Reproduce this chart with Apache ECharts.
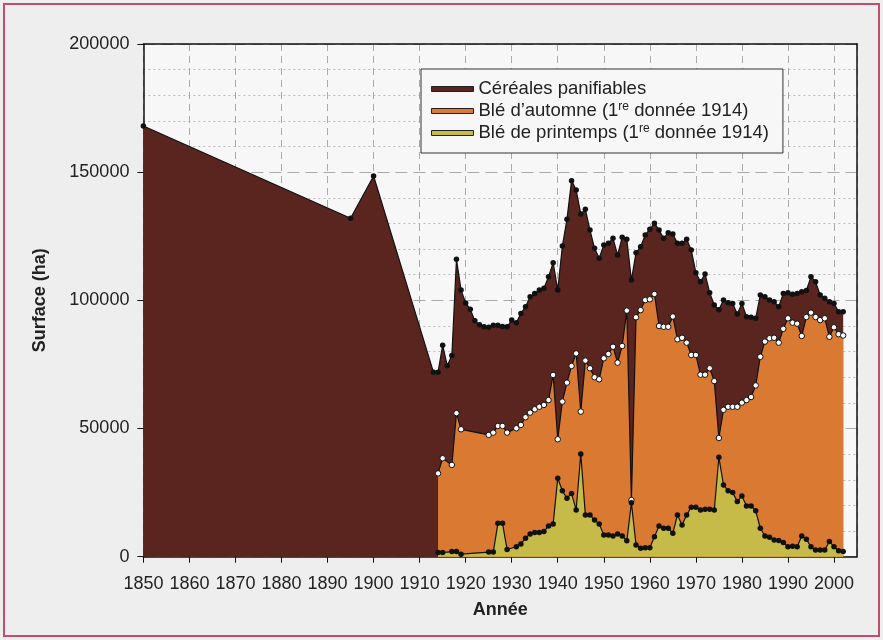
<!DOCTYPE html>
<html>
<head>
<meta charset="utf-8">
<script src="https://cdn.jsdelivr.net/npm/echarts@6/dist/echarts.min.js"></script>
<style>
html,body{margin:0;padding:0;background:#eeeeee;}
#c{width:883px;height:640px;}
</style>
</head>
<body>
<div id="c"></div>
<script>
// ---- Data ----
const cerealYears = [1850, 1895, 1900,
  1913,1914,1915,1916,1917,1918,1919,1920,1921,1922,
  1923,1924,1925,1926,1927,1928,1929,1930,1931,1932,
  1933,1934,1935,1936,1937,1938,1939,1940,1941,1942,
  1943,1944,1945,1946,1947,1948,1949,1950,1951,1952,
  1953,1954,1955,1956,1957,1958,1959,1960,1961,1962,
  1963,1964,1965,1966,1967,1968,1969,1970,1971,1972,
  1973,1974,1975,1976,1977,1978,1979,1980,1981,1982,
  1983,1984,1985,1986,1987,1988,1989,1990,1991,1992,
  1993,1994,1995,1996,1997,1998,1999,2000,2001,2002];
const cerealValues = [168000, 132000, 148500,
  72000,72000,82500,74500,78500,116000,104000,99000,96500,92000,
  90500,89700,89500,90300,90300,89800,89700,92300,91300,94900,
  97500,101400,102700,104000,104700,109200,114700,104000,121200,131600,
  146700,143000,133700,135500,127400,120300,116400,121600,122300,124200,
  117700,124600,123800,107900,118600,120900,125500,127700,130100,127400,
  124200,126400,125900,122300,122300,123800,119600,110800,107300,110300,
  103000,98200,96300,100100,99100,98800,94700,98800,93600,93400,
  93000,102100,101400,100100,99500,97500,102700,103000,102400,102700,
  103400,103800,109200,107300,102100,100800,99500,98800,95600,95600];

const wheatYears = [1914,1915,1917,1918,1919,1925,1926,1927,1928,1929,
  1931,1932,1933,1934,1935,1936,1937,1938,1939,1940,
  1941,1942,1943,1944,1945,1946,1947,1948,1949,1950,
  1951,1952,1953,1954,1955,1956,1957,1958,1959,1960,
  1961,1962,1963,1964,1965,1966,1967,1968,1969,1970,
  1971,1972,1973,1974,1975,1976,1977,1978,1979,1980,
  1981,1982,1983,1984,1985,1986,1987,1988,1989,1990,
  1991,1992,1993,1994,1995,1996,1997,1998,1999,2000,
  2001,2002];
const autumnValues = [32500,38400,35800,56000,49700,47500,48400,51000,51000,48400,
  50100,51400,54400,56200,57500,58500,59200,61100,70900,45800,
  60500,67900,74400,79300,56600,76500,73500,70000,69200,77400,
  79100,81900,75700,82200,96000,22100,93400,96200,100100,100400,
  102500,90000,89700,89700,93700,84800,85400,83500,78700,78700,
  71000,71000,73500,68500,46300,57300,58500,58500,58500,60100,
  61100,62300,66800,78000,83900,85200,85400,83500,88900,93000,
  91300,90900,86100,93500,95200,93500,92300,93000,85800,89500,
  86800,86300];
const springValues = [1600,1600,2000,2000,1000,1800,1800,13000,13000,2800,
  3900,5000,7200,8900,9400,9400,9800,12000,12800,30600,
  25700,22800,24700,18200,40100,16300,16300,14300,12800,8500,
  8500,8100,8900,8100,6200,21000,4600,3300,3500,3500,
  7800,12000,11100,11100,9100,16300,12400,16300,19300,19300,
  18200,18500,18500,18200,38800,28000,25700,25000,21500,23700,
  19800,19800,17900,11100,8100,7600,6500,6300,5500,3900,
  4100,3900,8100,6800,3900,2600,2600,2600,5900,3900,
  2300,2000];

const seriesNames = ['Céréales panifiables', 'Blé d’automne', 'Blé de printemps'];
const legendLabels = {
  'Céréales panifiables': '{n|Céréales panifiables}',
  'Blé d’automne': '{n|Blé d’automne (1}{s|re}{n| donnée 1914)}',
  'Blé de printemps': '{n|Blé de printemps (1}{s|re}{n| donnée 1914)}'
};

const BROWN = '#5a241f', ORANGE = '#da7a32', YELLOW = '#c6bb48';
const FONT = '"Liberation Sans", Arial, Helvetica, sans-serif';

const pairs = (xs, ys) => xs.map((x, i) => [x, ys[i]]);
const frameAxis = {
  axisLine: {show: true, onZero: false, lineStyle: {color: '#111', width: 1.5}},
  axisTick: {show: false}, axisLabel: {show: false}, splitLine: {show: false}
};

const chart = echarts.init(document.getElementById('c'), null, {renderer: 'canvas'});
chart.setOption({
  backgroundColor: '#eeeeee',
  animation: false,
  textStyle: {fontFamily: FONT},
  graphic: [{
    type: 'rect', z: -1,
    shape: {x: 4, y: 4, width: 875, height: 632},
    style: {fill: 'none', stroke: '#c24d6c', lineWidth: 2}
  }],
  grid: {
    left: 143.4, right: 26, top: 44, bottom: 83.3,
    show: true, backgroundColor: '#f7f7f7', borderColor: '#111', borderWidth: 0
  },
  legend: {
    left: 421, top: 69, orient: 'vertical',
    backgroundColor: '#f7f7f7', borderColor: '#333', borderWidth: 1,
    padding: [10, 14, 10, 10], itemGap: 2,
    itemWidth: 42, itemHeight: 5, icon: 'rect',
    data: [
      {name: seriesNames[0], itemStyle: {color: BROWN, borderColor: '#222', borderWidth: 1}},
      {name: seriesNames[1], itemStyle: {color: ORANGE, borderColor: '#222', borderWidth: 1}},
      {name: seriesNames[2], itemStyle: {color: YELLOW, borderColor: '#222', borderWidth: 1}}
    ],
    formatter: name => legendLabels[name],
    textStyle: {
      fontFamily: FONT, fontSize: 18.5, color: '#222', lineHeight: 20,
      rich: {
        n: {fontFamily: FONT, fontSize: 18.5, color: '#222', lineHeight: 20},
        s: {fontFamily: FONT, fontSize: 12, color: '#222', verticalAlign: 'top', lineHeight: 12}
      }
    }
  },
  xAxis: [{
    type: 'value', min: 1850, max: 2005, interval: 10,
    name: 'Année', nameLocation: 'middle', nameGap: 44,
    nameTextStyle: {fontFamily: FONT, fontSize: 18, fontWeight: 'bold', color: '#222'},
    axisLine: {onZero: false, lineStyle: {color: '#111', width: 1.5}},
    axisTick: {show: true, inside: false, length: 6, lineStyle: {color: '#111'}},
    axisLabel: {fontFamily: FONT, fontSize: 18, color: '#222', margin: 18, showMaxLabel: false,
      formatter: v => (v % 10 === 0 ? String(v) : '')},
    splitLine: {show: true, lineStyle: {color: '#aaaaaa', type: [7, 5], width: 1}}
  }, Object.assign({type: 'value', min: 1850, max: 2005, position: 'top'}, frameAxis)],
  yAxis: [{
    type: 'value', min: 0, max: 200000, interval: 50000,
    name: 'Surface (ha)', nameLocation: 'middle', nameGap: 94,
    nameTextStyle: {fontFamily: FONT, fontSize: 18, fontWeight: 'bold', color: '#222'},
    axisLine: {show: true, onZero: false, lineStyle: {color: '#111', width: 1.5}},
    axisTick: {show: true, inside: false, length: 6, lineStyle: {color: '#111'}},
    axisLabel: {fontFamily: FONT, fontSize: 18, color: '#222', margin: 14, formatter: v => String(v)},
    splitLine: {show: true, lineStyle: {color: '#aaaaaa', type: [12, 6], width: 1}},
    minorTick: {show: true, splitNumber: 5, length: 0},
    minorSplitLine: {show: true, lineStyle: {color: '#bbbbbb', type: [2, 3], width: 1}}
  }, Object.assign({type: 'value', min: 0, max: 200000, position: 'right'}, frameAxis)],
  series: [
    {
      name: seriesNames[0], type: 'line', data: pairs(cerealYears, cerealValues),
      symbol: 'circle', symbolSize: 5.5, showAllSymbol: true,
      itemStyle: {color: '#111'},
      lineStyle: {color: '#111', width: 1.2},
      areaStyle: {color: BROWN, opacity: 1},
      z: 2
    },
    {
      name: seriesNames[1], type: 'line', data: pairs(wheatYears, autumnValues),
      symbol: 'circle', symbolSize: 5.5, showAllSymbol: true,
      itemStyle: {color: '#ffffff', borderColor: '#111', borderWidth: 1},
      lineStyle: {color: '#111', width: 1.2},
      areaStyle: {color: ORANGE, opacity: 1},
      z: 3
    },
    {
      name: seriesNames[2], type: 'line', data: pairs(wheatYears, springValues),
      symbol: 'circle', symbolSize: 5.5, showAllSymbol: true,
      itemStyle: {color: '#111'},
      lineStyle: {color: '#111', width: 1.2},
      areaStyle: {color: YELLOW, opacity: 1},
      z: 4
    }
  ]
});
</script>
</body>
</html>
